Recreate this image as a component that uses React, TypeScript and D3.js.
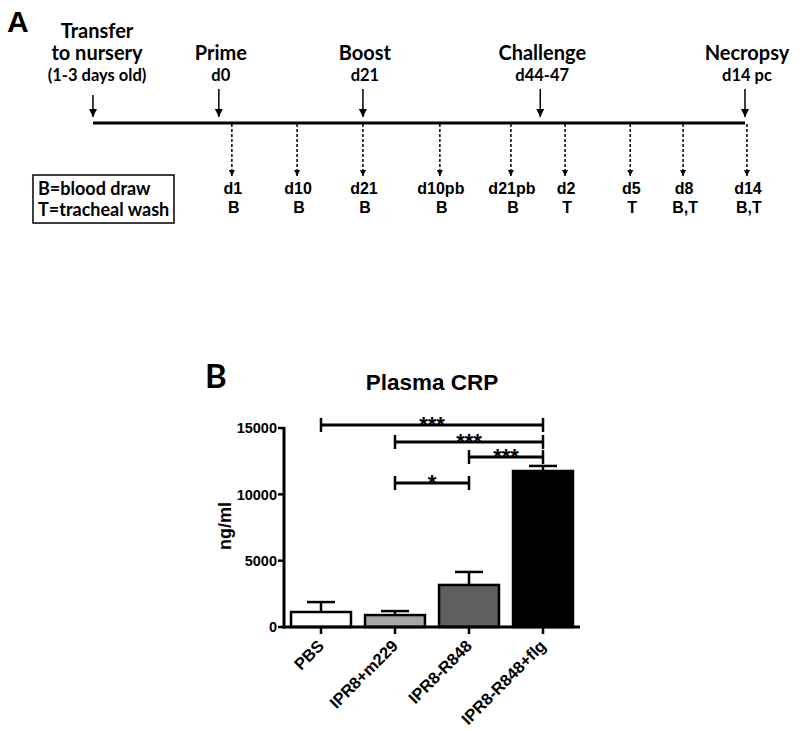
import React from "react";
import * as d3 from "d3";

// ---------- Panel A data ----------
const topTitles = [["Transfer", "to nursery"], ["Prime"], ["Boost"], ["Challenge"], ["Necropsy"]];
const topSubs = ["(1-3 days old)", "d0", "d21", "d44-47", "d14 pc"];
const topPos = [0, 19.3, 41.4, 68.6, 100];
const sampleDays = ["d1", "d10", "d21", "d10pb", "d21pb", "d2", "d5", "d8", "d14"];
const sampleTypes = ["B", "B", "B", "B", "B", "T", "T", "B,T", "B,T"];
const samplePos = [21.3, 31.3, 41.4, 53.2, 64.1, 72.4, 82.4, 90.5, 100.3];
const legendLines = ["B=blood draw", "T=tracheal wash"];

// ---------- Panel B data ----------
const groups = ["PBS", "IPR8+m229", "IPR8-R848", "IPR8-R848+flg"];
const means = [1130, 900, 3170, 11760];
const errs = [750, 300, 980, 380];
const barColors = ["#ffffff", "#a6a6a6", "#5f5f5f", "#000000"];
const yTicks = [0, 5000, 10000, 15000];
const sigFrom = ["PBS", "IPR8+m229", "IPR8-R848", "IPR8+m229"];
const sigTo = ["IPR8-R848+flg", "IPR8-R848+flg", "IPR8-R848+flg", "IPR8-R848"];
const sigText = ["***", "***", "***", "*"];
const sigLevel = [15230, 13950, 12810, 10850];

const ARIAL = "'Liberation Sans', Arial, sans-serif";
const CAL = "Lato, 'Open Sans', sans-serif";

export default function App() {
  const tx = d3.scaleLinear().domain([0, 100]).range([93, 745]);
  const lineY = 123;

  const x = d3.scaleBand<string>().domain(groups).range([284, 580]).paddingInner(0.19).paddingOuter(0.095);
  const y = d3.scaleLinear().domain([0, 15000]).range([627, 428]);
  const cx = (g: string) => (x(g) as number) + x.bandwidth() / 2;

  return (
    <svg width={800} height={731} style={{ position: "absolute", left: 0, top: 0, background: "#fff" }}>
      <defs>
        <marker id="solidArrow" viewBox="0 0 10 10" refX="10" refY="5" markerWidth="8" markerHeight="8" orient="auto" markerUnits="userSpaceOnUse">
          <path d="M0,0 L10,5 L0,10 Z" fill="#000" />
        </marker>
        <marker id="dashArrow" viewBox="0 0 10 10" refX="10" refY="5" markerWidth="6" markerHeight="7" orient="auto" markerUnits="userSpaceOnUse">
          <path d="M0,0 L10,5 L0,10 Z" fill="#000" />
        </marker>
      </defs>

      {/* Panel A */}
      <text x={7} y={32} fontFamily={ARIAL} fontWeight="bold" fontSize={30}>A</text>
      <line x1={tx(0)} x2={tx(100)} y1={lineY} y2={lineY} stroke="#000" strokeWidth={3} />
      {topTitles.map((lines, i) => (
        <g key={"top" + i}>
          {lines.map((l, j) => (
            <text key={j} x={tx(topPos[i]) + (i === 0 ? 4 : 2)} y={60 - (lines.length - 1 - j) * 22} textAnchor="middle"
              fontFamily={CAL} fontWeight="bold" fontSize={20}>{l}</text>
          ))}
          <text x={tx(topPos[i]) + (i === 0 ? 4 : 2)} y={81} textAnchor="middle" fontFamily={CAL} fontWeight="bold" fontSize={16.5}>{topSubs[i]}</text>
          <line x1={tx(topPos[i])} x2={tx(topPos[i])} y1={i === 0 ? 95 : 89} y2={117} stroke="#000" strokeWidth={1.5} markerEnd="url(#solidArrow)" />
        </g>
      ))}
      {sampleDays.map((d, i) => (
        <g key={"s" + i}>
          <line x1={tx(samplePos[i])} x2={tx(samplePos[i])} y1={lineY + 1} y2={176} stroke="#000" strokeWidth={1.5} strokeDasharray="3,2" markerEnd="url(#dashArrow)" />
          <text x={tx(samplePos[i]) + 1} y={194} textAnchor="middle" fontFamily={ARIAL} fontWeight="bold" fontSize={16}>{d}</text>
          <text x={tx(samplePos[i]) + 2} y={213} textAnchor="middle" fontFamily={ARIAL} fontWeight="bold" fontSize={16}>{sampleTypes[i]}</text>
        </g>
      ))}
      <rect x={33} y={175} width={141} height={48} fill="none" stroke="#000" strokeWidth={1.5} />
      {legendLines.map((l, i) => (
        <text key={l} x={38} y={195 + i * 21} fontFamily={CAL} fontWeight="bold" fontSize={18}>{l}</text>
      ))}

      {/* Panel B */}
      <text x={205} y={388} fontFamily={CAL} fontWeight="bold" fontSize={33}>B</text>
      <text x={432} y={390} textAnchor="middle" fontFamily={ARIAL} fontWeight="bold" fontSize={22.5}>Plasma CRP</text>
      <text transform="translate(231,526) rotate(-90)" textAnchor="middle" fontFamily={ARIAL} fontWeight="bold" fontSize={18}>ng/ml</text>

      {/* bars */}
      {groups.map((g, i) => (
        <g key={g}>
          <line x1={cx(g)} x2={cx(g)} y1={y(means[i])} y2={y(means[i] + errs[i])} stroke="#000" strokeWidth={2.5} />
          <line x1={cx(g) - 14} x2={cx(g) + 14} y1={y(means[i] + errs[i])} y2={y(means[i] + errs[i])} stroke="#000" strokeWidth={2.5} />
          <rect x={x(g) as number} y={y(means[i])} width={x.bandwidth()} height={y(0) - y(means[i])} fill={barColors[i]} stroke="#000" strokeWidth={2.5} />
        </g>
      ))}

      {/* axes */}
      <line x1={284} x2={284} y1={y(15000) - 1} y2={y(0) + 1.5} stroke="#000" strokeWidth={3} />
      <line x1={282.5} x2={580} y1={y(0)} y2={y(0)} stroke="#000" strokeWidth={3} />
      {yTicks.map((t) => (
        <g key={t}>
          <line x1={278} x2={284} y1={y(t)} y2={y(t)} stroke="#000" strokeWidth={2.5} />
          <text x={277} y={y(t)} dy="0.36em" textAnchor="end" fontFamily={ARIAL} fontWeight="bold" fontSize={14.5}>{t}</text>
        </g>
      ))}
      {groups.map((g) => (
        <g key={"xt" + g}>
          <line x1={cx(g)} x2={cx(g)} y1={y(0)} y2={y(0) + 7} stroke="#000" strokeWidth={2.5} />
          <text transform={`translate(${cx(g) + 4},${647}) rotate(-45)`} textAnchor="end" fontFamily={ARIAL} fontWeight="bold" fontSize={16.5}>{g}</text>
        </g>
      ))}

      {/* significance brackets */}
      {sigText.map((s, i) => {
        const x1 = cx(sigFrom[i]);
        const x2 = cx(sigTo[i]);
        const yy = y(sigLevel[i]);
        return (
          <g key={"sig" + i}>
            <line x1={x1} x2={x2} y1={yy} y2={yy} stroke="#000" strokeWidth={3} />
            <line x1={x1} x2={x1} y1={yy - 7} y2={yy + 7} stroke="#000" strokeWidth={2.5} />
            <line x1={x2} x2={x2} y1={yy - 7} y2={yy + 7} stroke="#000" strokeWidth={2.5} />
            <text x={(x1 + x2) / 2} y={yy + 7} textAnchor="middle" fontFamily={ARIAL} fontWeight="bold" fontSize={22}>{s}</text>
          </g>
        );
      })}
    </svg>
  );
}
